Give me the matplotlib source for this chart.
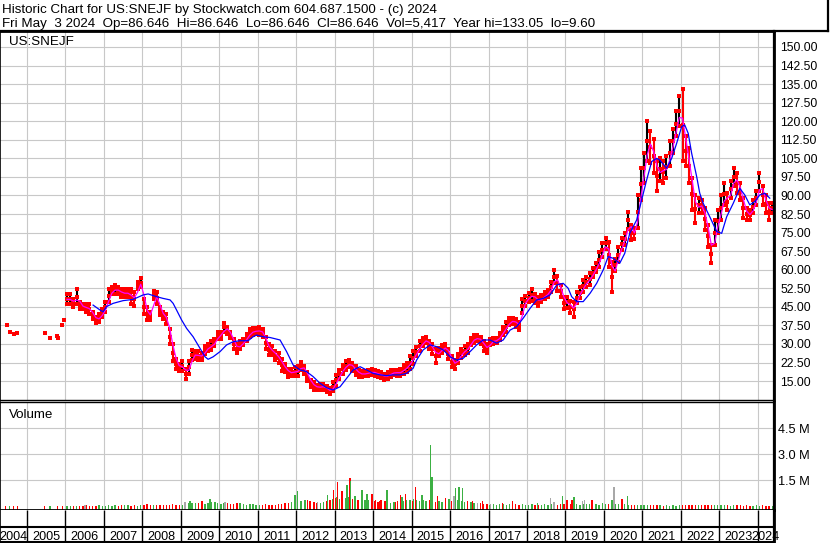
import numpy as np
import pandas as pd
import matplotlib
matplotlib.use('Agg')
import matplotlib.pyplot as plt
from matplotlib.lines import Line2D

plt.rcParams['font.family'] = ['Liberation Sans', 'DejaVu Sans']
FS_TICK = 8.7
FS_TEXT = 9.6
FS_YEAR = 9.1

HEADER_1 = 'Historic Chart for US:SNEJF by Stockwatch.com 604.687.1500 - (c) 2024'
HEADER_2 = ('Fri May  3 2024  Op=86.646  Hi=86.646  Lo=86.646  Cl=86.646  '
            'Vol=5,417  Year hi=133.05  lo=9.60')
SYMBOL = 'US:SNEJF'

year_labels = list(range(2004, 2025))
price_ticks = [15.0, 22.5, 30.0, 37.5, 45.0, 52.5, 60.0, 67.5, 75.0, 82.5,
               90.0, 97.5, 105.0, 112.5, 120.0, 127.5, 135.0, 142.5, 150.0]
vol_ticks = [1.5, 3.0, 4.5]
vol_tick_labels = ['1.5 M', '3.0 M', '4.5 M']

# sparse trades before 2006 (date as fractional year, price)
early_dates = [2004.47, 2004.56, 2004.66, 2004.74, 2005.47, 2005.60,
               2005.78, 2005.81, 2005.91, 2005.96]
early_prices = [37.7, 34.8, 34.0, 34.4, 34.4, 32.4, 33.2, 32.4, 37.5, 39.7]

# bad print drawn below the price panel
outlier_date = 2014.93
outlier_price = 0.1

# monthly low / high from Jan 2006 to May 2024
month_lo = [
    46, 46, 45, 46, 44, 44, 43, 42, 40, 38.5, 39, 41,            # 2006
    43, 47, 50, 50, 50, 49, 49, 49, 46, 45.5, 52, 53,            # 2007
    42, 39.5, 39.5, 48, 46, 41.5, 40, 38, 30, 23, 20, 19,        # 2008
    19, 16, 18, 23.5, 24, 23.5, 23.5, 26, 27, 27.5, 29, 32,      # 2009
    32, 35, 34, 32.5, 28, 26.3, 28, 29.5, 31, 33, 33.5, 34,      # 2010
    33.5, 33, 28, 25.5, 25.5, 23.5, 22.5, 19, 18.5, 16.5, 17, 17,  # 2011
    17, 19.5, 18, 15, 12.8, 11.5, 11.3, 11.5, 11.5, 10.5, 9.6, 11,  # 2012
    13, 16, 18, 19.5, 20.5, 19, 17.5, 16.5, 16.5, 17, 17, 17.5,  # 2013
    17, 16.5, 16.3, 15.5, 16, 16.6, 17.5, 17, 17, 18, 18.5, 20,  # 2014
    22, 25, 27, 29, 30.5, 28, 26, 22.5, 25, 26.5, 27.5, 24,      # 2015
    20.5, 20, 22.5, 24.5, 25.5, 26.5, 29.5, 30.5, 31, 30, 27, 26.3,  # 2016
    29.5, 30, 30.3, 31.5, 33.5, 35, 37.5, 38, 37, 35.6, 42.5, 45.5,  # 2017
    47, 47.5, 46.5, 45.5, 47, 48, 49, 51, 54.5, 51.5, 49, 44,    # 2018
    44.5, 42.5, 41, 46.5, 48.5, 51, 53, 54, 57, 59, 61, 65,      # 2019
    68.5, 61, 51, 59.5, 63, 68, 70, 76.5, 72, 72.5, 77, 88,      # 2020
    95, 104, 103, 99, 92, 96, 95, 97, 102, 107, 114, 118,        # 2021
    104, 102, 95, 84, 79, 83, 83, 76, 69, 62.7, 70, 75,          # 2022
    80, 86, 84, 89, 94, 91, 88, 81, 80, 80, 83, 86,              # 2023
    92, 86, 83, 80, 83,                                          # 2024
]
month_hi = [
    50, 50, 48, 52, 47, 46, 46, 46, 43, 41, 42, 44,              # 2006
    47, 52, 53, 54, 53, 52, 52, 52, 52, 51, 55, 56.5,            # 2007
    48, 45, 43, 51.5, 51, 45, 43, 42, 36, 30, 24, 22,            # 2008
    23, 20, 23, 27.5, 27, 27, 26.5, 29, 30, 31, 32, 35,          # 2009
    35, 38.5, 37, 35, 32, 30, 31, 32, 34, 36, 36.5, 36.5,        # 2010
    37, 36, 33, 30, 29, 27, 26.5, 24, 22, 20, 20, 20.5,          # 2011
    21, 22.7, 21, 18.5, 15.5, 14.5, 13.5, 13.8, 14, 13, 12, 14.5,  # 2012
    17.5, 19.5, 21.5, 23, 23.5, 22.5, 21, 19.5, 19, 19, 19.5, 20,  # 2013
    19.5, 19, 18.5, 18, 18.5, 19.5, 19.5, 19.5, 20, 21.5, 22.5, 25,  # 2014
    27, 28.7, 31, 32.4, 33, 31, 30, 28, 28.5, 29.5, 29.8, 28,    # 2015
    25, 23.5, 26, 28, 29, 30, 32.5, 33.5, 33.6, 33, 31, 30,      # 2016
    32, 32.5, 32.5, 34.5, 37, 39, 40.5, 40.5, 40, 39, 48, 49.5,  # 2017
    50.5, 52, 50, 49, 49.8, 51, 51.8, 55, 60, 57.5, 54, 49,      # 2018
    49, 47.5, 47, 51, 53, 55.8, 57, 58.5, 60.7, 62.7, 67, 70.8,  # 2019
    72.8, 71, 63, 64.5, 69, 73, 75, 83.3, 78, 77, 90, 101,       # 2020
    107, 120, 116, 113, 104, 105, 104, 106, 112, 117, 124, 130,  # 2021
    133, 114, 109, 97, 90, 89, 88, 85, 78, 70, 80, 84,           # 2022
    90, 95, 91, 96, 101, 99, 95, 89, 85, 84, 88, 92,             # 2023
    99, 94, 90, 87, 87,                                          # 2024
]

# slow moving average (blue)
slow_ma_dates = [
    2006.72, 2006.90, 2006.98, 2007.07, 2007.24, 2007.50, 2007.76, 2008.02,
    2008.15, 2008.37, 2008.54, 2008.72, 2008.80, 2008.89, 2009.02, 2009.15,
    2009.32, 2009.50, 2009.63, 2009.71, 2009.84, 2010.02, 2010.19, 2010.36,
    2010.54, 2010.75, 2010.88, 2010.97, 2011.14, 2011.32, 2011.58, 2011.75,
    2011.92, 2012.10, 2012.27, 2012.44, 2012.62, 2012.79, 2012.96, 2013.14,
    2013.31, 2013.48, 2013.66, 2013.83, 2014.00, 2014.18, 2014.35, 2014.52,
    2014.70, 2014.87, 2015.04, 2015.13, 2015.30, 2015.48, 2015.65, 2015.82,
    2016.00, 2016.17, 2016.34, 2016.52, 2016.69, 2016.86, 2017.04, 2017.21,
    2017.38, 2017.56, 2017.73, 2017.90, 2018.08, 2018.25, 2018.42, 2018.60,
    2018.77, 2018.94, 2019.07, 2019.16, 2019.29, 2019.46, 2019.64, 2019.81,
    2019.98, 2020.11, 2020.24, 2020.41, 2020.54, 2020.67, 2020.85, 2020.98,
    2021.11, 2021.24, 2021.37, 2021.45, 2021.63, 2021.76, 2021.89, 2022.02,
    2022.10, 2022.19, 2022.28, 2022.41, 2022.49, 2022.58, 2022.75, 2022.93,
    2023.06, 2023.19, 2023.36, 2023.53, 2023.66, 2023.79, 2023.92, 2024.05,
    2024.18, 2024.31,
]
slow_ma_vals = [
    45.7, 43.7, 43.0, 45.1, 46.4, 47.5, 48.0, 49.8,
    50.2, 49.1, 48.4, 47.8, 46.4, 43.7, 39.7, 36.3,
    32.9, 28.2, 24.8, 23.8, 24.8, 26.9, 29.6, 30.9,
    31.3, 31.3, 32.9, 33.6, 32.9, 32.6, 31.6, 26.9,
    21.5, 19.5, 18.8, 16.8, 14.1, 12.3, 11.4, 12.7,
    16.1, 19.5, 20.8, 19.5, 18.1, 17.5, 17.2, 17.5,
    17.5, 18.1, 20.2, 23.5, 27.6, 29.6, 28.9, 27.6,
    24.8, 23.5, 24.2, 26.9, 29.6, 31.6, 31.6, 30.3,
    31.6, 35.6, 37.0, 40.4, 44.4, 47.8, 48.4, 49.8,
    53.8, 54.5, 52.5, 49.1, 47.1, 47.1, 50.5, 54.5,
    59.9, 65.3, 64.6, 62.6, 66.6, 74.7, 80.1, 88.2,
    96.3, 103.7, 105.0, 104.3, 101.0, 105.0, 111.1, 117.8,
    118.5, 115.1, 107.0, 97.6, 90.9, 86.8, 81.4, 75.4,
    74.7, 81.4, 86.8, 92.9, 90.2, 86.2, 87.5, 90.2,
    90.9, 88.9,
]

# monthly base volume (millions), Jan 2006 - May 2024
month_vol = [
    0.03, 0.04, 0.03, 0.05, 0.04, 0.05, 0.06, 0.05, 0.04, 0.05, 0.06, 0.05,
    0.05, 0.06, 0.05, 0.06, 0.05, 0.06, 0.07, 0.06, 0.05, 0.06, 0.05, 0.06,
    0.06, 0.12, 0.10, 0.08, 0.07, 0.06, 0.08, 0.07, 0.09, 0.12, 0.10, 0.08,
    0.10, 0.14, 0.18, 0.20, 0.22, 0.20, 0.18, 0.15, 0.22, 0.25, 0.20, 0.18,
    0.15, 0.20, 0.18, 0.12, 0.15, 0.18, 0.12, 0.15, 0.10, 0.12, 0.14, 0.10,
    0.10, 0.08, 0.12, 0.10, 0.08, 0.10, 0.12, 0.15, 0.18, 0.20, 0.25, 0.30,
    0.40, 0.30, 0.25, 0.35, 0.30, 0.25, 0.20, 0.20, 0.25, 0.30, 0.40, 0.45,
    0.55, 0.45, 0.60, 0.50, 0.55, 0.45, 0.40, 0.35, 0.50, 0.40, 0.35, 0.40,
    0.30, 0.25, 0.35, 0.25, 0.30, 0.20, 0.25, 0.30, 0.35, 0.30, 0.35, 0.40,
    0.45, 0.35, 0.30, 0.35, 0.30, 0.40, 0.30, 0.25, 0.30, 0.25, 0.30, 0.25,
    0.30, 0.40, 0.35, 0.30, 0.25, 0.20, 0.25, 0.20, 0.15, 0.20, 0.15, 0.12,
    0.10, 0.12, 0.10, 0.15, 0.12, 0.10, 0.12, 0.10, 0.12, 0.10, 0.12, 0.10,
    0.10, 0.12, 0.10, 0.08, 0.10, 0.12, 0.10, 0.15, 0.12, 0.10, 0.12, 0.15,
    0.15, 0.12, 0.15, 0.12, 0.10, 0.12, 0.15, 0.12, 0.10, 0.12, 0.10, 0.12,
    0.15, 0.12, 0.20, 0.15, 0.12, 0.10, 0.12, 0.10, 0.08, 0.08, 0.07, 0.08,
    0.08, 0.07, 0.08, 0.06, 0.07, 0.06, 0.05, 0.06, 0.05, 0.06, 0.05, 0.06,
    0.06, 0.07, 0.08, 0.07, 0.06, 0.08, 0.07, 0.06, 0.07, 0.08, 0.07, 0.06,
    0.06, 0.07, 0.06, 0.05, 0.06, 0.07, 0.06, 0.05, 0.06, 0.05, 0.05, 0.06,
    0.05, 0.06, 0.05, 0.05, 0.04,
]

# single heavy-volume days: date, volume (M), colour code g=up r=down k=flat
spike_dates = [2004.45, 2004.55, 2004.65, 2004.75, 2005.45, 2005.60, 2005.80,
               2005.92, 2006.51, 2009.11, 2009.24, 2009.55, 2009.76, 2009.89,
               2010.15, 2010.54, 2010.80, 2011.97, 2012.04, 2012.23, 2012.36,
               2012.56, 2012.82, 2012.98, 2013.03, 2013.08, 2013.19, 2013.32,
               2013.40, 2013.42, 2013.53, 2013.60, 2013.71, 2013.84, 2013.97,
               2014.07, 2014.18, 2014.31, 2014.36, 2014.57, 2014.70, 2014.75,
               2014.83, 2015.03, 2015.09, 2015.27, 2015.35, 2015.50, 2015.53,
               2015.68, 2015.87, 2015.97, 2016.10, 2016.15, 2016.23, 2016.33,
               2016.46, 2016.59, 2016.72, 2016.85, 2017.04, 2017.37, 2017.63,
               2018.28, 2018.60, 2018.70, 2018.93, 2019.04, 2019.17, 2019.22,
               2019.45, 2019.50, 2019.69, 2019.97, 2020.21, 2020.26, 2020.47,
               2020.62]
spike_vols = [0.03, 0.02, 0.03, 0.02, 0.02, 0.02, 0.03, 0.03, 0.10, 0.27,
              0.33, 0.30, 0.44, 0.25, 0.25, 0.20, 0.15, 0.69, 0.87, 0.40,
              0.30, 0.25, 0.69, 0.98, 0.50, 1.44, 0.90, 1.25, 1.67, 1.48,
              0.63, 0.40, 0.96, 0.75, 0.75, 0.35, 0.30, 0.30, 0.96, 0.25,
              0.67, 0.55, 0.73, 0.30, 1.11, 0.69, 0.33, 3.52, 1.69, 0.60,
              0.48, 0.45, 0.60, 1.05, 1.11, 1.05, 0.30, 0.30, 0.20, 0.30,
              0.15, 0.20, 0.30, 0.20, 0.48, 0.25, 0.63, 0.35, 0.35, 0.52,
              0.30, 0.40, 0.35, 0.20, 0.40, 1.15, 0.44, 0.60]
spike_cols = list('rgrrrgrr' 'k' 'kgrgg' 'kgg' 'gggr' 'kgrrrrgrg' 'grggrr'
                  'rrgrrgrr' 'rggggrr' 'gkggg' 'rrkr' 'krr' 'gkkgrrg'
                  'kkrg' 'gkrg')

RED = '#ff0000'
GREEN = '#3cb043'
GRAY = '#a8a8a8'
GRID = '#c8c8c8'
col_map = {'r': RED, 'g': GREEN, 'k': GRAY}

x_min, x_max = 2004.30, 2024.42
p_min, p_max = 7.35, 156.45
v_min, v_max = -0.2, 6.02

W, H = 830, 543
fig = plt.figure(figsize=(W / 100, H / 100), dpi=100)


def frac(px_left, px_top, px_w, px_h):
    return [px_left / W, 1 - (px_top + px_h) / H, px_w / W, px_h / H]


month_dates = 2006 + (np.arange(len(month_lo)) + 0.5) / 12
lo = np.array(month_lo, dtype=float)
hi = np.array(month_hi, dtype=float)
mid = (lo + hi) / 2
up = np.r_[True, mid[1:] >= mid[:-1]]

# ---- price panel
ax = fig.add_axes(frac(0, 31, 774, 369))
ax.set_xlim(x_min, x_max)
ax.set_ylim(p_min, p_max)
ax.set_xticks(year_labels[1:])
ax.set_yticks(price_ticks)
ax.set_yticklabels([f'{v:.2f}' for v in price_ticks], fontsize=FS_TICK)
ax.yaxis.tick_right()
ax.tick_params(axis='y', length=0, pad=4.5)
ax.tick_params(axis='x', length=0, labelbottom=False)
ax.grid(color=GRID, lw=0.8)
ax.set_axisbelow(True)

ax.vlines(month_dates, lo, hi, colors=np.where(up, 'black', RED), lw=1.5,
          zorder=3)
for series in (lo, hi, mid):
    ax.plot(month_dates, series, 's', color=RED, ms=2.3, mew=0, zorder=4)
ax.plot(early_dates, early_prices, 's', color=RED, ms=2.3, mew=0, zorder=4)
ax.plot([outlier_date], [outlier_price], 's', color=RED, ms=2.3, mew=0,
        clip_on=False, zorder=6)

ma_fast = pd.Series(mid).rolling(2, min_periods=1).mean()
ax.plot(month_dates, ma_fast, color='#ff00ff', lw=0.9, zorder=5)
ax.plot(slow_ma_dates, slow_ma_vals, color='#0000ff', lw=0.9, zorder=5)

ax.text(0.012, 0.962, SYMBOL, transform=ax.transAxes, fontsize=FS_TEXT,
        va='baseline', ha='left')
for side, lw in (('top', 2), ('right', 2), ('left', 1.2), ('bottom', 1)):
    ax.spines[side].set_linewidth(lw)

# ---- volume panel
axv = fig.add_axes(frac(0, 402, 774, 108))
axv.set_xlim(x_min, x_max)
axv.set_ylim(v_min, v_max)
axv.set_xticks(year_labels[1:])
axv.set_yticks(vol_ticks)
axv.set_yticklabels(vol_tick_labels, fontsize=9.2)
axv.yaxis.tick_right()
axv.tick_params(axis='y', length=0, pad=3)
axv.tick_params(axis='x', length=0, labelbottom=False)
axv.grid(color=GRID, lw=0.8)
axv.set_axisbelow(True)

mv = np.array(month_vol)
axv.bar(month_dates, mv - v_min, bottom=v_min, width=0.035,
        color=np.where(up, GREEN, RED), lw=0)
sv = np.array(spike_vols)
axv.bar(spike_dates, sv - v_min, bottom=v_min, width=0.03,
        color=[col_map[c] for c in spike_cols], lw=0)
axv.text(0.012, 0.85, 'Volume', transform=axv.transAxes, fontsize=FS_TEXT,
         va='baseline', ha='left')
for side, lw in (('top', 1), ('right', 2), ('left', 1.2), ('bottom', 2)):
    axv.spines[side].set_linewidth(lw)

# ---- date strip
axd = fig.add_axes(frac(0, 510, 774, 32))
axd.set_xlim(x_min, x_max)
axd.set_ylim(0, 1)
axd.set_xticks([])
axd.set_yticks([])
axd.vlines(year_labels[1:], 0, 1, color='black', lw=1)
axd.axhline(0.48, color='black', lw=1.5)
edges = [x_min] + year_labels[1:] + [x_max]
for yr, a, b in zip(year_labels, edges[:-1], edges[1:]):
    axd.text((a + b) / 2, 0.07, str(yr), ha='center', va='baseline',
             fontsize=FS_YEAR, clip_on=False)
for side, lw in (('top', 0), ('right', 2), ('left', 1.2), ('bottom', 1.5)):
    axd.spines[side].set_linewidth(lw)

# ---- header
fig.text(2 / W, 1 - 13.5 / H, HEADER_1, fontsize=FS_TEXT, va='baseline')
fig.text(2 / W, 1 - 27.5 / H, HEADER_2, fontsize=FS_TEXT, va='baseline')
fig.add_artist(Line2D([0, 828 / W], [1 - 31 / H, 1 - 31 / H],
                      color='black', lw=1.6))
fig.add_artist(Line2D([828 / W, 828 / W], [1 - 31 / H, 1], color='black',
                      lw=1.6))
fig.add_artist(Line2D([774 / W, 774 / W], [0, 1 - 31 / H], color='black',
                      lw=1.6))

fig.savefig('out.png', dpi=100)
plt.close(fig)
